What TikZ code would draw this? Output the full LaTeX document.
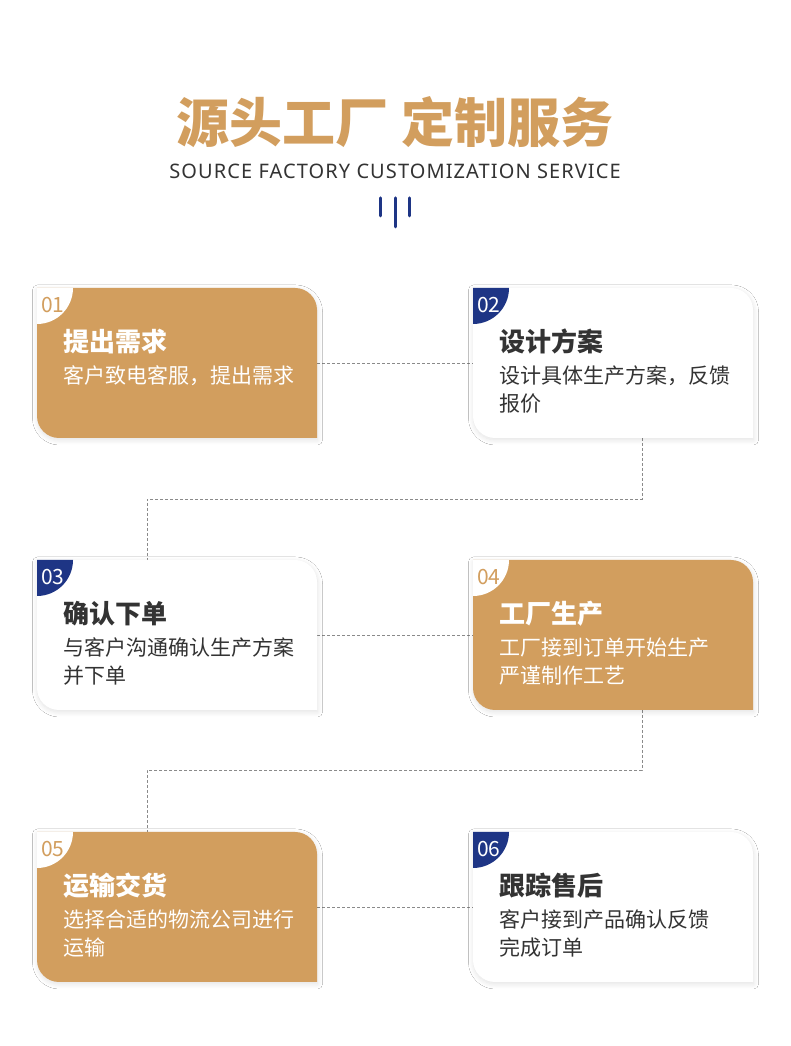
\documentclass[tikz,border=0pt]{standalone}
\usepackage{fontspec}
\setmainfont{Noto Sans CJK SC}
\newfontfamily\cjk{Noto Sans CJK SC}
\newfontfamily\latinfont[LetterSpace=5.5]{Noto Sans}
\usetikzlibrary{shadows.blur}
\definecolor{gold}{HTML}{D29E5E}
\definecolor{navy}{HTML}{1E3585}
\definecolor{ink}{HTML}{333333}
\definecolor{dashgray}{HTML}{8A8A8A}
\tikzset{
  cardnode/.style={minimum width=280pt, minimum height=150pt, inner sep=0pt, outer sep=0pt},
  cardshadow/.style={blur shadow={shadow xshift=0.5pt, shadow yshift=-2pt, shadow blur radius=5pt, shadow blur steps=12, shadow opacity=12}},
  linkline/.style={draw=dashgray, line width=0.8pt, dash pattern=on 3pt off 2pt},
  headtext/.style={anchor=base west, inner sep=0pt, font=\cjk\bfseries\fontsize{26}{30}\selectfont},
  desctext/.style={anchor=base west, inner sep=0pt, font=\cjk\fontsize{21}{28}\selectfont},
  numtext/.style={anchor=base west, inner sep=0pt, font=\cjk\fontsize{21}{22}\selectfont},
  barline/.style={draw=navy, line width=3pt, line cap=round},
}
% #1 name, #2 card fill, #3 badge fill, #4 number colour, #5 number, #6 text colour, #7 heading, #8 line 1, #9 line 2
\newcommand{\stepcard}[9]{%
  \fill[#2, cardshadow] (#1.north west) -- ([xshift=-22pt]#1.north east)
    arc[start angle=90, end angle=0, radius=22pt] -- (#1.south east)
    -- ([xshift=22pt]#1.south west) arc[start angle=270, end angle=180, radius=22pt] -- cycle;
  \fill[#3] (#1.north west) -- ([xshift=36pt]#1.north west)
    arc[start angle=0, end angle=-90, radius=36pt] -- cycle;
  \node[numtext, text=#4] (#1num) at ([xshift=4pt, yshift=-25pt]#1.north west) {#5};
  \node[headtext, text=#6] (#1head) at ([xshift=26pt, yshift=-64pt]#1.north west) {#7};
  \node[desctext, text=#6] (#1desca) at ([xshift=26pt, yshift=-96pt]#1.north west) {#8};
  \node[desctext, text=#6] (#1descb) at ([xshift=26pt, yshift=-124pt]#1.north west) {#9};
}
\begin{document}
\begin{tikzpicture}[x=1pt, y=1pt]
\useasboundingbox[fill=white] (0,0) rectangle (790,1046);
% title
\node[inner sep=0pt, text=gold, font=\cjk\bfseries\fontsize{53}{58}\selectfont] (title) at (395,924) {源头工厂\hspace{14pt}定制服务};
\node[inner sep=0pt, text=ink, font=\latinfont\fontsize{20}{24}\selectfont] (subtitle) at (395,875) {SOURCE FACTORY CUSTOMIZATION SERVICE};
% bars
\draw[barline] (380,848) -- (380,830);
\draw[barline] (395,848) -- (395,819);
\draw[barline] (409,848) -- (409,830);
% card frames
\node[cardnode] (c1) at (177,683) {};
\node[cardnode] (c2) at (613,683) {};
\node[cardnode] (c3) at (177,411) {};
\node[cardnode] (c4) at (613,411) {};
\node[cardnode] (c5) at (177,139) {};
\node[cardnode] (c6) at (613,139) {};
% connectors
\draw[linkline] (c1.east) -- (c2.west);
\draw[linkline] ([xshift=29pt]c2.south) -- ++(0,-61) -| ([xshift=-30pt]c3.north);
\draw[linkline] (c3.east) -- (c4.west);
\draw[linkline] ([xshift=29pt]c4.south) -- ++(0,-60) -| ([xshift=-30pt]c5.north);
\draw[linkline] (c5.east) -- (c6.west);
% cards
\stepcard{c1}{gold}{white}{gold}{01}{white}{提出需求}{客户致电客服，提出需求}{}
\stepcard{c2}{white}{navy}{white}{02}{ink}{设计方案}{设计具体生产方案，反馈}{报价}
\stepcard{c3}{white}{navy}{white}{03}{ink}{确认下单}{与客户沟通确认生产方案}{并下单}
\stepcard{c4}{gold}{white}{gold}{04}{white}{工厂生产}{工厂接到订单开始生产}{严谨制作工艺}
\stepcard{c5}{gold}{white}{gold}{05}{white}{运输交货}{选择合适的物流公司进行}{运输}
\stepcard{c6}{white}{navy}{white}{06}{ink}{跟踪售后}{客户接到产品确认反馈}{完成订单}
\end{tikzpicture}
\end{document}
